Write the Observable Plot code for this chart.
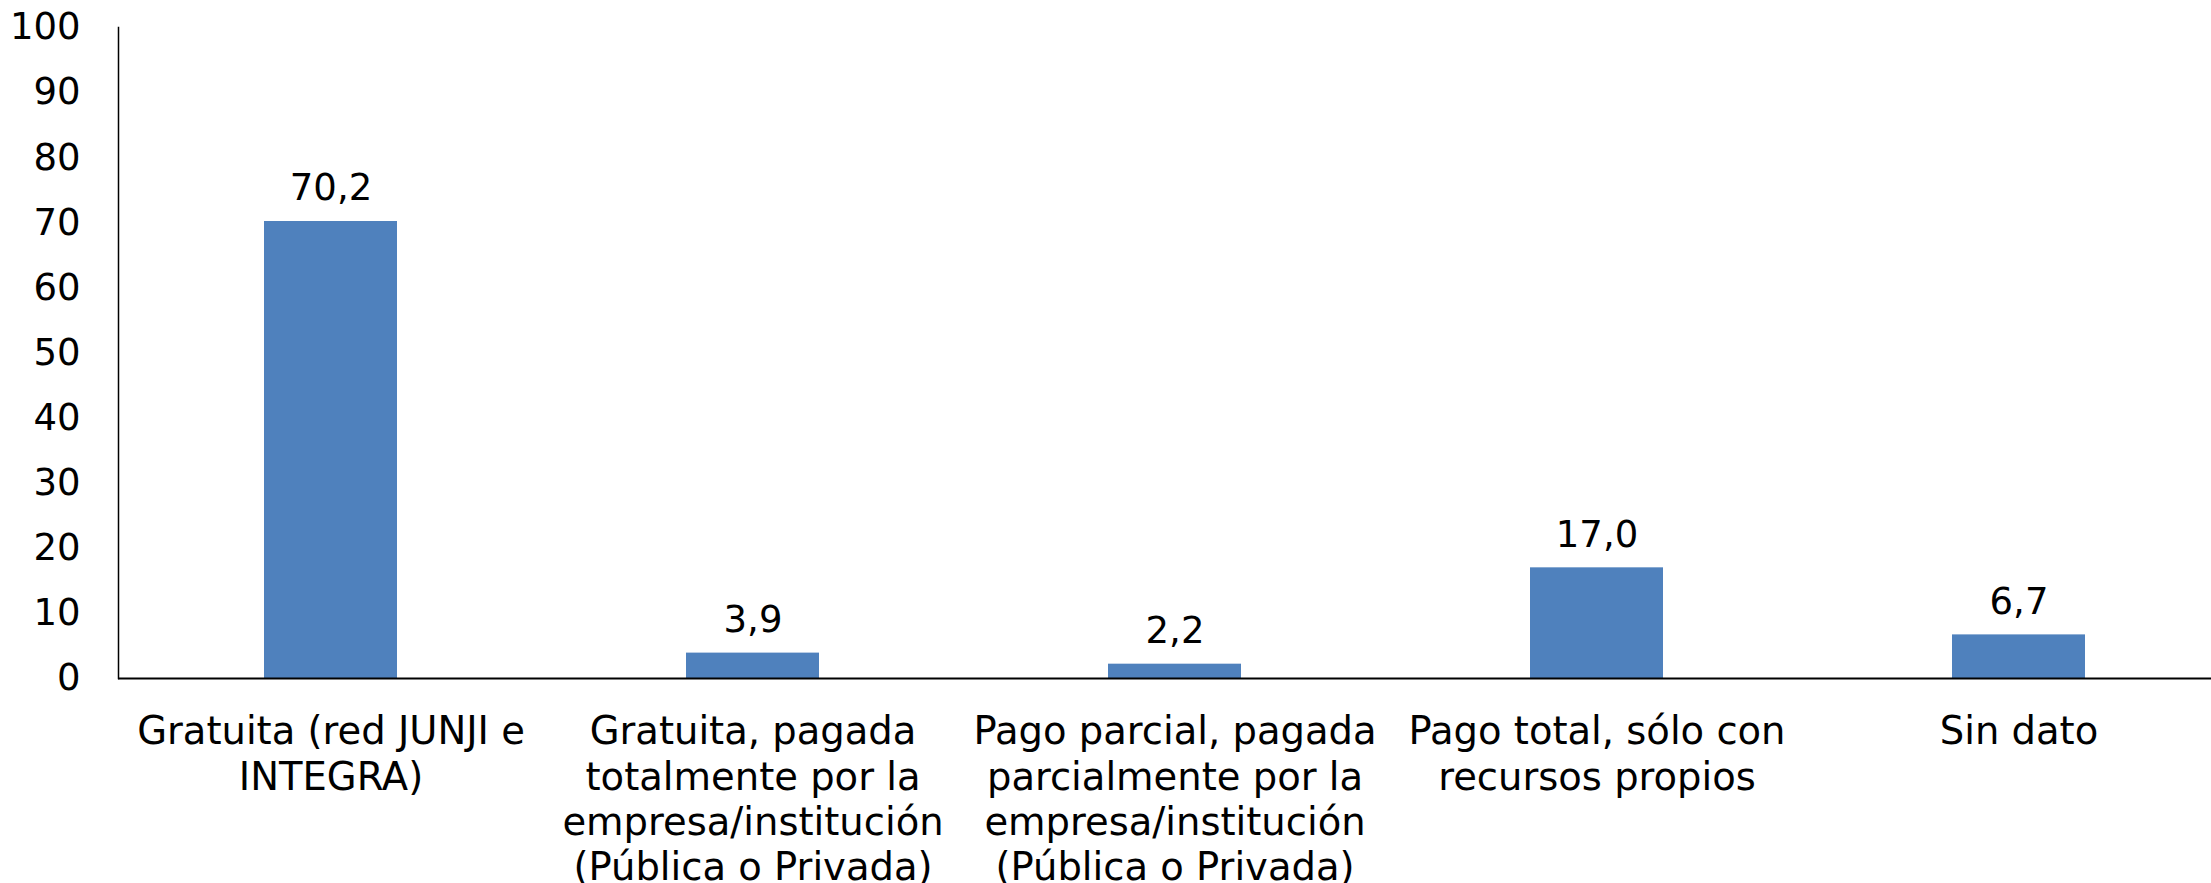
<!DOCTYPE html>
<html>
<head>
<meta charset="utf-8">
<script src="https://cdn.jsdelivr.net/npm/d3@7"></script>
<script src="https://cdn.jsdelivr.net/npm/@observablehq/plot@0.6"></script>
<style>
  html, body { margin: 0; padding: 0; background: #fff; }
  #chart svg { display: block; }
</style>
</head>
<body>
<div id="chart"></div>
<script>
const categories = [
  "Gratuita (red JUNJI e\nINTEGRA)",
  "Gratuita, pagada\ntotalmente por la\nempresa/institución\n(Pública o Privada)",
  "Pago parcial, pagada\nparcialmente por la\nempresa/institución\n(Pública o Privada)",
  "Pago total, sólo con\nrecursos propios",
  "Sin dato"
];
const values = [70.2, 3.9, 2.2, 17.0, 6.7];
const yTicks = [0, 10, 20, 30, 40, 50, 60, 70, 80, 90, 100];

const data = categories.map((c, i) => ({category: c, value: values[i]}));
const fmt = v => v.toFixed(1).replace(".", ",");

const chart = Plot.plot({
  width: 2211,
  height: 883,
  marginLeft: 118,
  marginRight: 0,
  marginTop: 27,
  marginBottom: 205,
  style: {fontFamily: "'DejaVu Sans', Verdana, sans-serif", color: "#000", background: "#fff"},
  x: {domain: categories, range: [118, 2231], paddingInner: 0.685, paddingOuter: 0.3425, label: null},
  y: {domain: [0, 100], label: null},
  marks: [
    Plot.barY(data, {x: "category", y: "value", fill: "#4F81BD"}),
    Plot.frame({anchor: "left", stroke: "#000", strokeWidth: 1.5}),
    Plot.ruleY([0], {stroke: "#000", strokeWidth: 2.2}),
    Plot.text(data, {x: "category", y: "value", text: d => fmt(d.value), dy: -33, fontSize: 37, fill: "#000"}),
    Plot.axisY({ticks: yTicks, tickSize: 0, tickPadding: 38, fontSize: 37, label: null, tickFormat: d => String(d)}),
    Plot.axisX({tickSize: 0, tickPadding: 34, fontSize: 38.5, lineHeight: 1.17, label: null, textAnchor: "middle"})
  ]
});
document.getElementById("chart").appendChild(chart);
</script>
</body>
</html>
